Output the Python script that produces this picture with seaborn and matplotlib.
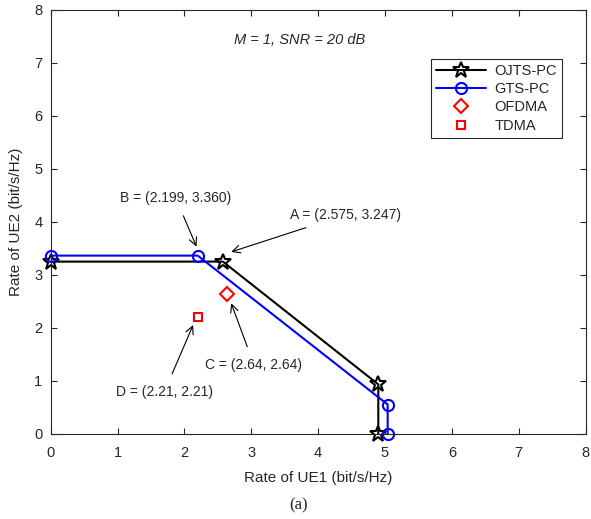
import matplotlib
matplotlib.use("Agg")
import matplotlib.pyplot as plt
import seaborn as sns
import pandas as pd

# Dữ liệu
ojts_x = [0, 2.575, 4.9, 4.9]
ojts_y = [3.247, 3.247, 0.93, 0]
gts_x = [0, 2.199, 5.04, 5.04]
gts_y = [3.36, 3.36, 0.55, 0]
ofdma_x = [2.64]
ofdma_y = [2.64]
tdma_x = [2.21]
tdma_y = [2.21]

labels = ["OJTS-PC", "GTS-PC", "OFDMA", "TDMA"]
ann_texts = ["A = (2.575, 3.247)", "B = (2.199, 3.360)", "C = (2.64, 2.64)", "D = (2.21, 2.21)"]
ann_points = [(2.70, 3.43), (2.18, 3.53), (2.70, 2.46), (2.13, 2.05)]
ann_text_pos = [(4.41, 4.13), (1.87, 4.45), (3.04, 1.30), (1.70, 0.79)]

sns.set_theme(style="ticks")
plt.rcParams['font.family'] = ['Liberation Sans', 'DejaVu Sans']

fig = plt.figure(figsize=(5.91, 5.19), dpi=100)
ax = fig.add_axes([0.0858, 0.1644, 0.9050, 0.8169])

df_ojts = pd.DataFrame({"x": ojts_x, "y": ojts_y})
df_gts = pd.DataFrame({"x": gts_x, "y": gts_y})

# estimator=None để không gộp các điểm trùng x
sns.lineplot(data=df_ojts, x="x", y="y", sort=False, estimator=None, ax=ax,
             color="black", lw=1.5, marker="*", markersize=12, markerfacecolor="none",
             markeredgecolor="black", markeredgewidth=1.5, label=labels[0])
sns.lineplot(data=df_gts, x="x", y="y", sort=False, estimator=None, ax=ax,
             color="blue", lw=1.5, marker="o", markersize=8, markerfacecolor="none",
             markeredgecolor="blue", markeredgewidth=1.5, label=labels[1])
ax.plot(ofdma_x, ofdma_y, ls="none", marker="D", markersize=7, mfc="none", mec="red",
        mew=1.5, label=labels[2])
ax.plot(tdma_x, tdma_y, ls="none", marker="s", markersize=6, mfc="none", mec="red",
        mew=1.5, label=labels[3])
for ln in ax.lines:
    ln.set_clip_on(False)

for txt, pt, tp in zip(ann_texts, ann_points, ann_text_pos):
    ax.annotate(txt, xy=pt, xytext=tp, fontsize=10, ha="center", va="center",
                arrowprops=dict(arrowstyle="->", color="black", lw=0.8,
                                shrinkA=6, shrinkB=0, mutation_scale=14))

ax.text(3.72, 7.43, "M = 1, SNR = 20 dB", fontsize=10.5, style="italic",
        ha="center", va="center")

ax.set_xlim(0, 8)
ax.set_ylim(0, 8)
ax.set_xticks(range(0, 9))
ax.set_yticks(range(0, 9))
ax.set_xlabel("Rate of UE1 (bit/s/Hz)", fontsize=11, labelpad=8)
ax.set_ylabel("Rate of UE2 (bit/s/Hz)", fontsize=11, labelpad=8)
ax.tick_params(direction="in", top=True, right=True, labelsize=10.5, length=4,
               width=0.8, colors="#262626")
ax.tick_params(axis="x", pad=9)
ax.tick_params(axis="y", pad=6)
for s in ax.spines.values():
    s.set_linewidth(0.8)
    s.set_color("#262626")

leg = ax.legend(loc="upper right", bbox_to_anchor=(0.97, 0.902), fontsize=10.5,
                frameon=True, fancybox=False, edgecolor="#262626", framealpha=1,
                handlelength=3.4, borderpad=0.35, labelspacing=0.3, handletextpad=0.6)
leg.get_frame().set_linewidth(0.8)

fig.text(0.505, 0.027, "(a)", fontsize=12, family="Liberation Serif",
         ha="center", va="center")

fig.savefig("out.png", dpi=100)
